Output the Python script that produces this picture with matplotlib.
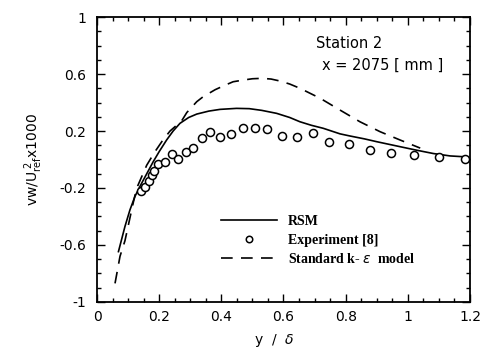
import numpy as np
import matplotlib
matplotlib.use("Agg")
import matplotlib.pyplot as plt
from matplotlib.ticker import MultipleLocator

# Experiment [8]
exp_x = [0.141, 0.154, 0.168, 0.176, 0.184, 0.197, 0.219, 0.240, 0.262, 0.286,
         0.310, 0.337, 0.364, 0.396, 0.430, 0.469, 0.508, 0.548, 0.594, 0.642,
         0.694, 0.748, 0.810, 0.878, 0.946, 1.019, 1.100, 1.183]
exp_y = [-0.22, -0.19, -0.15, -0.11, -0.08, -0.03, -0.02, 0.04, 0.00, 0.05,
         0.08, 0.15, 0.19, 0.16, 0.18, 0.22, 0.22, 0.215, 0.166, 0.158,
         0.188, 0.125, 0.108, 0.07, 0.046, 0.03, 0.014, 0.005]

# RSM
rsm_x = [0.069, 0.09, 0.106, 0.122, 0.138, 0.16, 0.181, 0.2, 0.224, 0.245, 0.267,
         0.295, 0.321, 0.36, 0.396, 0.449, 0.49, 0.53, 0.578, 0.62, 0.653, 0.69,
         0.728, 0.782, 0.814, 0.86, 0.9, 0.975, 1.029, 1.082, 1.136, 1.19]
rsm_y = [-0.647, -0.47, -0.354, -0.26, -0.19, -0.1, -0.015, 0.055, 0.137, 0.2,
         0.254, 0.295, 0.319, 0.34, 0.352, 0.359, 0.357, 0.345, 0.324, 0.295,
         0.265, 0.24, 0.219, 0.18, 0.165, 0.145, 0.125, 0.09, 0.065, 0.042,
         0.025, 0.018]

# Standard k-epsilon model
ke_x = [0.058, 0.074, 0.09, 0.105, 0.117, 0.128, 0.14, 0.16, 0.185, 0.21, 0.235,
        0.256, 0.272, 0.289, 0.321, 0.341, 0.38, 0.41, 0.438, 0.471, 0.5, 0.53,
        0.56, 0.589, 0.62, 0.653, 0.718, 0.782, 0.846, 0.911, 0.975, 1.04]
ke_y = [-0.87, -0.68, -0.57, -0.42, -0.3, -0.2, -0.14, -0.04, 0.05, 0.13, 0.2,
        0.24, 0.27, 0.33, 0.406, 0.44, 0.49, 0.52, 0.546, 0.558, 0.567, 0.57,
        0.565, 0.551, 0.53, 0.5, 0.43, 0.347, 0.265, 0.195, 0.137, 0.08]

x_ticks = [0, 0.2, 0.4, 0.6, 0.8, 1, 1.2]
x_ticklabels = ["0", "0.2", "0.4", "0.6", "0.8", "1", "1.2"]
y_ticks = [-1, -0.6, -0.2, 0.2, 0.6, 1]
y_ticklabels = ["-1", "-0.6", "-0.2", "0.2", "0.6", "1"]

fig = plt.figure(figsize=(4.85, 3.49), dpi=100)
ax = fig.add_axes([0.2, 0.135, 0.769, 0.816])

ax.plot(rsm_x, rsm_y, color="black", linewidth=1.2, label="RSM")
ax.plot(exp_x, exp_y, linestyle="none", marker="o", markersize=5.8,
        markerfacecolor="white", markeredgecolor="black", markeredgewidth=1.1,
        label="Experiment [8]")
ax.plot(ke_x, ke_y, color="black", linewidth=1.2, dashes=(7, 5),
        label=r"Standard k- $\varepsilon$  model")

ax.set_xlim(0, 1.2)
ax.set_ylim(-1, 1)
ax.set_xticks(x_ticks)
ax.set_xticklabels(x_ticklabels)
ax.set_yticks(y_ticks)
ax.set_yticklabels(y_ticklabels)
ax.xaxis.set_minor_locator(MultipleLocator(0.05))
ax.yaxis.set_minor_locator(MultipleLocator(0.1))
ax.tick_params(which="both", direction="in", top=True, right=True,
               labelsize=10, width=1)
ax.tick_params(which="major", length=6)
ax.tick_params(which="minor", length=3)
ax.tick_params(axis="x", pad=6)
ax.tick_params(axis="y", pad=8)
for s in ax.spines.values():
    s.set_linewidth(1.3)

ax.text(0.586, 0.907, "Station 2", fontsize=10.5, ha="left", va="center",
        transform=ax.transAxes)
ax.text(0.603, 0.83, "x = 2075 [ mm ]", fontsize=10.5, ha="left", va="center",
        transform=ax.transAxes)

leg = ax.legend(loc="center left", bbox_to_anchor=(0.318, 0.215), frameon=False,
                handlelength=4.0, handletextpad=0.8, labelspacing=0.4,
                markerscale=0.8, borderaxespad=0,
                prop={"family": "Liberation Serif", "weight": "bold", "size": 10})

ax.set_ylabel(r"vw/U$_{\mathrm{ref}}^{\ 2}$x1000", fontsize=10, labelpad=10)
fig.text(0.565, 0.025, r"y  /  $\delta$", fontsize=10, ha="center", va="center")

fig.savefig("out.png", dpi=100)
